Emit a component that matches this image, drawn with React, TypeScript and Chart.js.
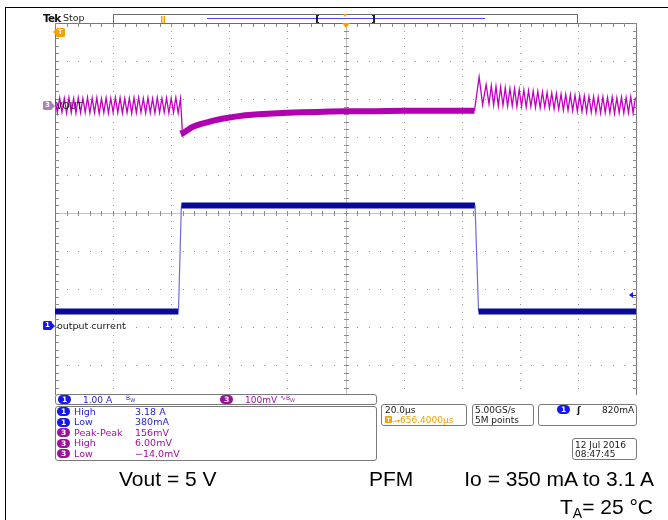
import React, { useEffect, useRef } from "react";
import { Chart, registerables } from "chart.js";

Chart.register(...registerables);

// ---- Time base (µs) ----
const X_MIN_US = -100;
const X_MAX_US = 100;
const X_DIV_US = 20;
const GRID_DIV_MIN = -5;
const GRID_DIV_MAX = 5;

// ---- Channel ranges (10 vertical divisions) ----
const CH1_MIN_A = -2.04;
const CH1_MAX_A = 7.96;
const CH3_MIN_MV = -783;
const CH3_MAX_MV = 217;

// ---- Channel 1: output current (A) ----
const CURRENT_T_US = [-100, -57.5, -56.5, 44.6, 45.8, 100];
const CURRENT_A = [0.37, 0.37, 3.16, 3.16, 0.37, 0.37];

// ---- Channel 3: VOUT (mV, AC) ----
const SAMPLE_US = 0.8;
const VOUT_PRE_START_US = -100;
const VOUT_PRE_MV = [
  18, -19, 20, -18, 19, -20, 21, -19, 18, -20,
  20, -19, 19, -18, 21, -20, 19, -19, 20, -21,
  18, -19, 20, -20, 19, -18, 21, -19, 20, -20,
  18, -19, 19, -21, 20, -19, 21, -18, 19, -20,
  20, -19, 18, -20, 21, -19, 19, -18, 20, -20,
  19, -19, 21, -20, 18,
];
const VOUT_SETTLE_T_US = [
  -56.2, -55.8, -55.2, -54.2, -53.0, -51.5, -50.0, -48.0, -45.5, -42.5,
  -38.5, -34.5, -30, -25, -20, -15, -10, -5, 0, 10, 20, 30, 40, 44.4,
];
const VOUT_SETTLE_MV = [
  -64, -72, -69, -64, -58, -53, -49, -45, -40, -35,
  -30, -26, -23, -21, -19, -18, -17, -16, -15, -15, -14, -14, -14, -14,
];
const VOUT_RING_T_US = [46.0, 47.2, 48.4, 49.4];
const VOUT_RING_MV = [75, 2, 55, 4];
const VOUT_POST_START_US = 50.2;
const VOUT_POST_MV = [
  52, 1, 50, -1, 48, 0, 47, -2, 45, -1,
  44, -3, 42, -2, 41, -4, 39, -3, 38, -5,
  37, -6, 35, -5, 34, -7, 33, -9, 31, -10,
  30, -12, 29, -13, 28, -14, 27, -15, 26, -16,
  25, -17, 24, -18, 23, -19, 22, -20, 23, -19,
  21, -20, 22, -21, 20, -19, 22, -20, 21, -19,
  23, -20, 21,
];

const SCOPE_FONT = '"DejaVu Sans", Verdana, sans-serif';
const NOTE_FONT = '"Liberation Sans", Arial, sans-serif';
const CH1_TEXT = "#2424d6";
const CH1_BADGE = "#1616ee";
const CH3_TEXT = "#a010a0";
const CH3_BADGE = "#9a129a";
const ORANGE = "#f5a000";

// Tek-style graticule drawn from the scales' own ticks
const graticule = {
  id: "graticule",
  beforeDatasetsDraw(chart: any) {
    const { ctx, chartArea: a, scales } = chart;
    const xs = scales.x;
    const ys = scales.yGrid;
    const px = (v: number) => Math.round(xs.getPixelForValue(v));
    const py = (v: number) => Math.round(ys.getPixelForValue(v));
    const xMinorStep = X_DIV_US / 5;
    const xMinors: number[] = [];
    for (let i = 0; i <= (X_MAX_US - X_MIN_US) / xMinorStep; i++) xMinors.push(px(X_MIN_US + i * xMinorStep));
    const yMinors: number[] = [];
    for (let i = 0; i <= (GRID_DIV_MAX - GRID_DIV_MIN) * 5; i++) yMinors.push(py(GRID_DIV_MIN + i * 0.2));
    const x0 = px(0);
    const y0 = py(0);
    const L = Math.round(a.left);
    const R = Math.round(a.right);
    const T = Math.round(a.top);
    const B = Math.round(a.bottom);

    ctx.save();
    ctx.fillStyle = "#959595";
    xs.ticks.forEach((t: any) => {
      if (t.value === 0 || t.value === X_MIN_US || t.value === X_MAX_US) return;
      const x = px(t.value);
      yMinors.forEach((y) => ctx.fillRect(x, y, 1, 1));
    });
    ys.ticks.forEach((t: any) => {
      if (t.value === 0 || t.value === GRID_DIV_MIN || t.value === GRID_DIV_MAX) return;
      const y = py(t.value);
      xMinors.forEach((x) => ctx.fillRect(x, y, 1, 1));
    });
    ctx.fillStyle = "#c4c4c4";
    ctx.fillRect(x0, T, 1, B - T);
    ctx.fillRect(L, y0, R - L, 1);
    ctx.fillStyle = "#8c8c8c";
    xMinors.forEach((x) => ctx.fillRect(x, y0 - 2, 1, 5));
    yMinors.forEach((y) => ctx.fillRect(x0 - 2, y, 5, 1));
    ctx.fillStyle = "#777777";
    ctx.fillRect(L, T, R - L + 1, 1);
    ctx.fillRect(L, B, R - L + 1, 1);
    ctx.fillRect(L, T, 1, B - T);
    ctx.fillRect(R, T, 1, B - T);
    ctx.fillStyle = "#8c8c8c";
    xMinors.forEach((x) => {
      ctx.fillRect(x, T, 1, 4);
      ctx.fillRect(x, B - 3, 1, 4);
    });
    yMinors.forEach((y) => {
      ctx.fillRect(L, y, 4, 1);
      ctx.fillRect(R - 3, y, 4, 1);
    });
    ctx.restore();
  },
};

function buildVout() {
  const pts: { x: number; y: number }[] = [];
  VOUT_PRE_MV.forEach((v, i) => pts.push({ x: VOUT_PRE_START_US + i * SAMPLE_US, y: v }));
  VOUT_SETTLE_T_US.forEach((t, i) => pts.push({ x: t, y: VOUT_SETTLE_MV[i] }));
  VOUT_RING_T_US.forEach((t, i) => pts.push({ x: t, y: VOUT_RING_MV[i] }));
  VOUT_POST_MV.forEach((v, i) => pts.push({ x: VOUT_POST_START_US + i * SAMPLE_US, y: v }));
  return pts;
}

function ScopeChart() {
  const ref = useRef<HTMLCanvasElement | null>(null);
  useEffect(() => {
    if (!ref.current) return;
    const settleStart = VOUT_SETTLE_T_US[0];
    const settleEnd = VOUT_SETTLE_T_US[VOUT_SETTLE_T_US.length - 1];
    const inSettle = (c: any) => c.p0.parsed.x >= settleStart && c.p1.parsed.x <= settleEnd;
    const chart = new Chart(ref.current, {
      type: "line",
      data: {
        datasets: [
          {
            label: "output current",
            data: CURRENT_T_US.map((t, i) => ({ x: t, y: CURRENT_A[i] })),
            yAxisID: "yI",
            borderColor: "#0c0c9c",
            borderWidth: 6,
            pointRadius: 0,
            segment: {
              borderWidth: (c: any) => (c.p0.parsed.y === c.p1.parsed.y ? 6 : 1.2),
              borderColor: (c: any) => (c.p0.parsed.y === c.p1.parsed.y ? "#0a0a9a" : "#6c6cd8"),
            },
          },
          {
            label: "VOUT",
            data: buildVout(),
            yAxisID: "yV",
            borderColor: "#c000c0",
            borderWidth: 1.3,
            pointRadius: 0,
            segment: {
              borderWidth: (c: any) => (inSettle(c) ? 6 : 1.3),
              borderColor: (c: any) => (inSettle(c) ? "#b000b0" : "#c000c0"),
            },
          },
        ],
      },
      options: {
        animation: false,
        responsive: false,
        maintainAspectRatio: false,
        layout: { padding: { left: 55, top: 23, right: 32, bottom: 117 } },
        plugins: { legend: { display: false }, tooltip: { enabled: false } },
        elements: { point: { radius: 0 }, line: { tension: 0 } },
        scales: {
          x: {
            type: "linear",
            min: X_MIN_US,
            max: X_MAX_US,
            ticks: { stepSize: X_DIV_US, display: false },
            grid: { display: false, drawTicks: false },
            border: { display: false },
          },
          yGrid: {
            type: "linear",
            position: "left",
            min: GRID_DIV_MIN,
            max: GRID_DIV_MAX,
            ticks: { stepSize: 1, display: false },
            grid: { display: false, drawTicks: false },
            border: { display: false },
          },
          yI: { type: "linear", display: false, min: CH1_MIN_A, max: CH1_MAX_A },
          yV: { type: "linear", display: false, min: CH3_MIN_MV, max: CH3_MAX_MV },
        },
      } as any,
      plugins: [graticule],
    });
    return () => chart.destroy();
  }, []);
  return (
    <canvas
      ref={ref}
      width={668}
      height={520}
      style={{ position: "absolute", left: 0, top: 0, width: 668, height: 520 }}
    />
  );
}

function Txt(props: {
  x: number;
  y: number;
  color?: string;
  size?: number;
  weight?: number | string;
  font?: string;
  right?: boolean;
  spacing?: number;
  children: React.ReactNode;
}) {
  const { x, y, color = "#1a1a1a", size = 9, weight = 400, font = SCOPE_FONT, right, spacing = 0 } = props;
  const pos: any = right ? { right: 668 - x } : { left: x };
  return (
    <div
      style={{
        position: "absolute",
        ...pos,
        top: y,
        transform: "translateY(-50%)",
        color,
        fontFamily: font,
        fontSize: size,
        fontWeight: weight as any,
        letterSpacing: spacing,
        lineHeight: 1,
        whiteSpace: "nowrap",
      }}
    >
      {props.children}
    </div>
  );
}

function Badge({ x, y, n, color }: { x: number; y: number; n: string; color: string }) {
  return (
    <div
      style={{
        position: "absolute",
        left: x,
        top: y - 4.5,
        width: 13,
        height: 9,
        borderRadius: 5,
        background: color,
        color: "#fff",
        fontFamily: SCOPE_FONT,
        fontWeight: 700,
        fontSize: 7.5,
        lineHeight: "9px",
        textAlign: "center",
      }}
    >
      {n}
    </div>
  );
}

function Box({ x, y, w, h }: { x: number; y: number; w: number; h: number }) {
  return (
    <div
      style={{
        position: "absolute",
        left: x,
        top: y,
        width: w,
        height: h,
        boxSizing: "border-box",
        border: "1px solid #7a7a7a",
        borderRadius: 3,
        background: "#ffffff",
      }}
    />
  );
}

function Marker({ x, y, color, n, dir }: { x: number; y: number; color: string; n: string; dir: "right" | "left" }) {
  const tri: any =
    dir === "right"
      ? { left: x + 9, borderLeft: `3px solid ${color}` }
      : { left: x - 3, borderRight: `3px solid ${color}` };
  return (
    <>
      <div
        style={{
          position: "absolute",
          left: x,
          top: y - 4.5,
          width: 9,
          height: 9,
          borderRadius: 1.5,
          background: color,
          color: "#fff",
          fontFamily: SCOPE_FONT,
          fontWeight: 700,
          fontSize: 7,
          lineHeight: "9px",
          textAlign: "center",
        }}
      >
        {n}
      </div>
      <div
        style={{
          position: "absolute",
          top: y - 3,
          width: 0,
          height: 0,
          borderTop: "3px solid transparent",
          borderBottom: "3px solid transparent",
          ...tri,
        }}
      />
    </>
  );
}

const MEAS_ROWS: { ch: string; label: string; value: string }[] = [
  { ch: "1", label: "High", value: "3.18 A" },
  { ch: "1", label: "Low", value: "380mA" },
  { ch: "3", label: "Peak-Peak", value: "156mV" },
  { ch: "3", label: "High", value: "6.00mV" },
  { ch: "3", label: "Low", value: "\u221214.0mV" },
];

export default function App() {
  return (
    <div
      style={{
        position: "fixed",
        left: 0,
        top: 0,
        width: 668,
        height: 520,
        background: "#ffffff",
        overflow: "hidden",
      }}
    >
      <ScopeChart />
      <div style={{ position: "absolute", left: 50, top: 395, width: 592, height: 12, background: "#fff" }} />

      {/* outer frame */}
      <div style={{ position: "absolute", left: 5, top: 7, width: 663, height: 1, background: "#000" }} />
      <div style={{ position: "absolute", left: 5, top: 7, width: 1, height: 513, background: "#000" }} />

      {/* header */}
      <Txt x={43} y={18} size={10.5} weight={700} spacing={-0.8} color="#111">Tek</Txt>
      <Txt x={63} y={18} size={9.5} color="#222">Stop</Txt>
      <div
        style={{
          position: "absolute",
          left: 113,
          top: 14,
          width: 465,
          height: 10,
          boxSizing: "border-box",
          border: "1px solid #6a6a6a",
        }}
      />
      <div style={{ position: "absolute", left: 207, top: 18, width: 278, height: 1, background: "#4a4af0" }} />
      <div
        style={{
          position: "absolute",
          left: 316,
          top: 15,
          width: 3,
          height: 8,
          boxSizing: "border-box",
          borderLeft: "2px solid #222",
          borderTop: "1px solid #222",
          borderBottom: "1px solid #222",
        }}
      />
      <div
        style={{
          position: "absolute",
          left: 372,
          top: 15,
          width: 3,
          height: 8,
          boxSizing: "border-box",
          borderRight: "2px solid #222",
          borderTop: "1px solid #222",
          borderBottom: "1px solid #222",
        }}
      />
      <div
        style={{
          position: "absolute",
          left: 161,
          top: 16,
          width: 4,
          height: 7,
          boxSizing: "border-box",
          borderLeft: `1.5px solid ${ORANGE}`,
          borderRight: `1.5px solid ${ORANGE}`,
          background: "#ffd080",
        }}
      />
      <div
        style={{
          position: "absolute",
          left: 342.5,
          top: 14,
          width: 0,
          height: 0,
          borderLeft: "2.5px solid transparent",
          borderRight: "2.5px solid transparent",
          borderTop: `3px solid ${ORANGE}`,
        }}
      />
      <div
        style={{
          position: "absolute",
          left: 341.5,
          top: 23,
          width: 0,
          height: 0,
          borderLeft: "4px solid transparent",
          borderRight: "4px solid transparent",
          borderTop: `5px solid ${ORANGE}`,
        }}
      />

      {/* trigger position marker */}
      <Marker x={56} y={32} color={ORANGE} n="T" dir="left" />

      {/* channel markers and labels */}
      <Marker x={43} y={105.5} color="#a585ad" n="3" dir="right" />
      <Txt x={56} y={106} size={9.5} color="#1a1a1a">VOUT</Txt>
      <Marker x={43} y={325.5} color={CH1_BADGE} n="1" dir="right" />
      <Txt x={57} y={326} size={9.5} color="#1a1a1a">output current</Txt>

      {/* trigger level arrow */}
      <div
        style={{
          position: "absolute",
          left: 629,
          top: 292,
          width: 0,
          height: 0,
          borderTop: "3px solid transparent",
          borderBottom: "3px solid transparent",
          borderRight: `4px solid ${CH1_BADGE}`,
        }}
      />
      <div style={{ position: "absolute", left: 632, top: 294.5, width: 4, height: 1, background: CH1_BADGE }} />

      {/* channel settings box */}
      <Box x={55} y={394} w={322} h={11} />
      <Badge x={58} y={399.5} n="1" color={CH1_BADGE} />
      <Txt x={83} y={399.5} color={CH1_TEXT}>1.00 A</Txt>
      <Txt x={126} y={398.5} size={6} color={CH1_TEXT}>
        B<sub style={{ fontSize: 5 }}>W</sub>
      </Txt>
      <Badge x={220} y={399.5} n="3" color={CH3_BADGE} />
      <Txt x={245} y={399.5} color={CH3_TEXT}>100mV</Txt>
      <Txt x={280} y={398.5} size={7} color={CH3_TEXT}>
        ∿<span style={{ fontSize: 6 }}>B</span>
        <sub style={{ fontSize: 5 }}>W</sub>
      </Txt>

      {/* measurements box */}
      <Box x={55} y={406} w={322} h={55} />
      {MEAS_ROWS.map((r, i) => {
        const y = 411.5 + i * 10.6;
        const c = r.ch === "1" ? CH1_TEXT : CH3_TEXT;
        const b = r.ch === "1" ? CH1_BADGE : CH3_BADGE;
        return (
          <React.Fragment key={i}>
            <Badge x={57} y={y} n={r.ch} color={b} />
            <Txt x={74} y={y} color={c} size={9.5}>{r.label}</Txt>
            <Txt x={135} y={y} color={c} size={9.5}>{r.value}</Txt>
          </React.Fragment>
        );
      })}

      {/* timebase box */}
      <Box x={381} y={404} w={86} h={22} />
      <Txt x={385} y={410} color="#1a1a1a">20.0µs</Txt>
      <div
        style={{
          position: "absolute",
          left: 385,
          top: 415.5,
          width: 7,
          height: 7,
          background: ORANGE,
          color: "#fff",
          fontSize: 6,
          fontFamily: SCOPE_FONT,
          fontWeight: 700,
          lineHeight: "7px",
          textAlign: "center",
          borderRadius: 1,
        }}
      >
        T
      </div>
      <Txt x={392} y={419.5} color={ORANGE} size={9}>
        <span style={{ fontSize: 6 }}>→▾</span>656.4000µs
      </Txt>

      <Box x={472} y={404} w={62} h={22} />
      <Txt x={475} y={410} color="#1a1a1a">5.00GS/s</Txt>
      <Txt x={475} y={419.5} color="#1a1a1a">5M points</Txt>

      <Box x={538} y={404} w={99} h={22} />
      <Badge x={557} y={409.5} n="1" color={CH1_BADGE} />
      <Txt x={577} y={410} color="#1a1a1a" size={9} weight={700}>ʃ</Txt>
      <Txt x={602} y={410} color="#1a1a1a">820mA</Txt>

      <Box x={572} y={438} w={65} h={22} />
      <Txt x={575} y={444.5} color="#1a1a1a">12 Jul  2016</Txt>
      <Txt x={575} y={454} color="#1a1a1a">08:47:45</Txt>

      {/* annotations */}
      <Txt x={119} y={478} size={21} font={NOTE_FONT} color="#000">Vout = 5 V</Txt>
      <Txt x={369} y={478} size={21} font={NOTE_FONT} color="#000">PFM</Txt>
      <Txt x={654} y={478} right size={21} font={NOTE_FONT} color="#000">
        Io = 350 mA to 3.1 A
      </Txt>
      <Txt x={653} y={508} right size={21} font={NOTE_FONT} color="#000">
        T<sub style={{ fontSize: 14, verticalAlign: "-0.3em" }}>A</sub>= 25 °C
      </Txt>
    </div>
  );
}
